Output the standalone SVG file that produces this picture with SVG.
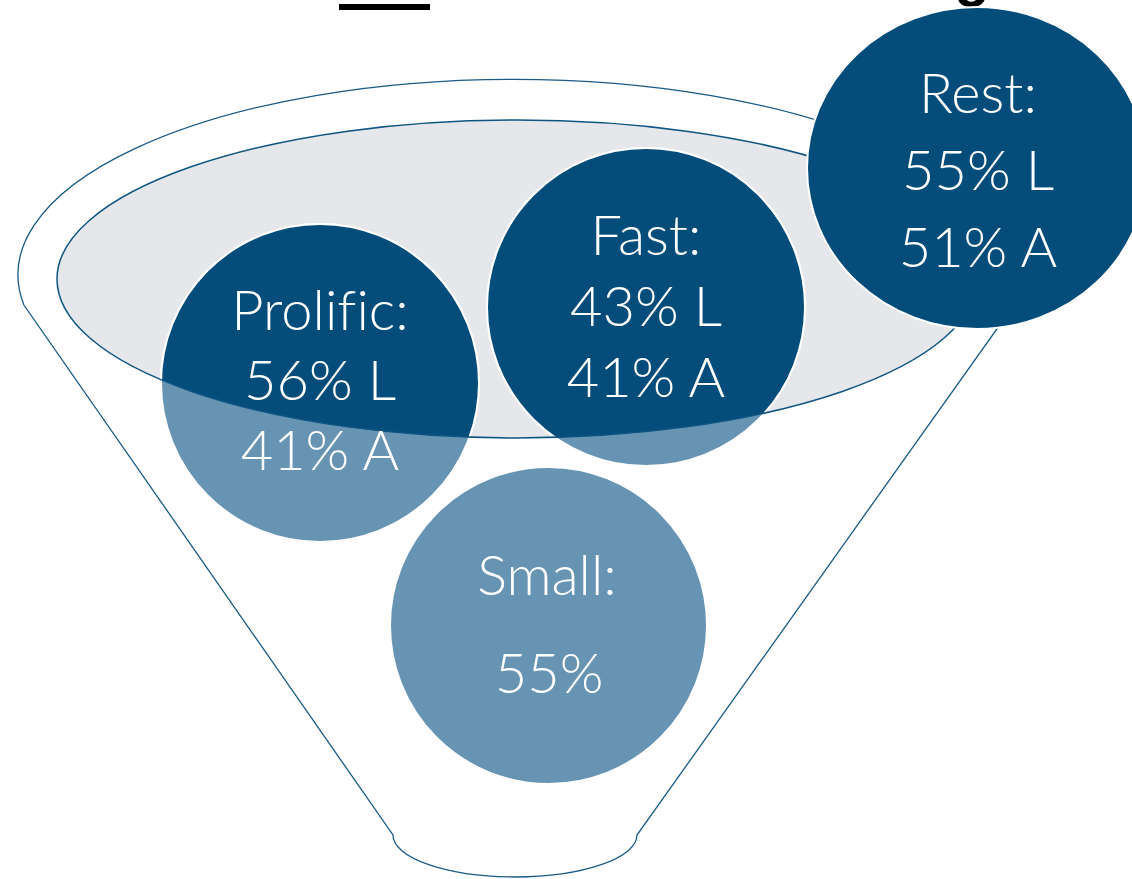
<svg xmlns="http://www.w3.org/2000/svg" width="1132" height="879" viewBox="0 0 1132 879">
<style>
.outline{fill:#ffffff;stroke:#1a5a86;stroke-width:1.3}
.rim{fill:none;stroke:#0f5582;stroke-width:1.5}
.dark{fill:#044d7a;stroke:#ffffff;stroke-width:2}
.light{fill:#6794b3;stroke:#ffffff;stroke-width:2}
.lbl{fill:#ffffff;font-family:Lato,"Liberation Sans",sans-serif;font-weight:300;font-size:56px;text-anchor:middle;font-variant-ligatures:none;font-feature-settings:"liga" 0}
.title{fill:#000000;font-family:"Liberation Sans",Arial,sans-serif;font-weight:bold;font-size:58px;text-anchor:middle}
</style>
<defs>
<clipPath id="inner"><ellipse cx="517" cy="279" rx="460" ry="159"/></clipPath>
</defs>
<rect width="1132" height="879" fill="#ffffff"/>
<g id="title">
<rect x="339" y="4" width="91" height="6" fill="#000000"/>
<text class="title" x="972" y="-5">g</text>
</g>
<g id="funnel">
<path class="outline" d="M23.9,305 A495.5,195.5 0 1 1 1003,305 L1009,312 L637,835 A122,42 0 0 1 393,835 Z"/>
<ellipse cx="517" cy="279" rx="460" ry="159" fill="#e5e7eb" stroke="none"/>
</g>
<g id="prolific">
<circle class="light" cx="320" cy="383" r="159"/>
<circle class="dark" cx="320" cy="383" r="159" clip-path="url(#inner)"/>
</g>
<g id="fast">
<circle class="light" cx="646" cy="307" r="159"/>
<circle class="dark" cx="646" cy="307" r="159" clip-path="url(#inner)"/>
</g>
<g id="rim">
<ellipse class="rim" cx="517" cy="279" rx="460" ry="159"/>
</g>
<g id="prolific-label">
<text class="lbl" x="320" y="330">Prolific:</text>
<text class="lbl" x="320" y="400">56% L</text>
<text class="lbl" x="320" y="470">41% A</text>
</g>
<g id="fast-label">
<text class="lbl" x="646" y="255">Fast:</text>
<text class="lbl" x="646" y="326">43% L</text>
<text class="lbl" x="646" y="397">41% A</text>
</g>
<g id="small">
<circle class="light" cx="548.5" cy="625.5" r="158.5"/>
<text class="lbl" x="547" y="595">Small:</text>
<text class="lbl" x="549" y="693">55%</text>
</g>
<g id="rest">
<ellipse class="dark" cx="977" cy="168" rx="170" ry="161"/>
<text class="lbl" x="978" y="113">Rest:</text>
<text class="lbl" x="978" y="190">55% L</text>
<text class="lbl" x="978" y="267">51% A</text>
</g>
</svg>
